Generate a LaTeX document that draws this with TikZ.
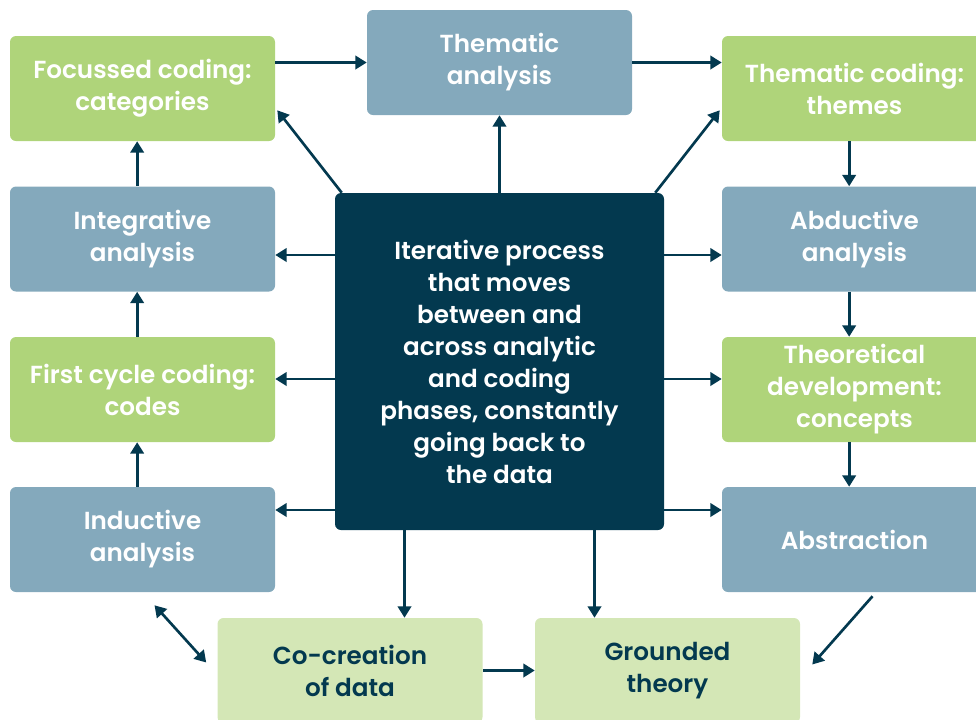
\documentclass[tikz,border=0pt]{standalone}
\usepackage{fontspec}
\setmainfont{Poppins}[BoldFont={Poppins SemiBold}]
\usetikzlibrary{arrows.meta,calc}

\definecolor{navy}{HTML}{03394F}
\definecolor{leaf}{HTML}{AFD47A}
\definecolor{steel}{HTML}{84A9BC}
\definecolor{mint}{HTML}{D4E7B6}

\begin{document}
\begin{tikzpicture}[x=0.75pt,y=-0.75pt,
  font=\fontsize{18.5}{24}\selectfont\bfseries,
  >={Triangle[length=8.5pt,width=10pt]},
  stage/.style={rounded corners=4.5pt,minimum width=198.75pt,
    minimum height=78.75pt,align=center,inner sep=0pt},
  coding/.style={stage,fill=leaf,text=white},
  analysis/.style={stage,fill=steel,text=white},
  outcome/.style={stage,fill=mint,text=navy},
  arr/.style={->,draw=navy,line width=2pt},
]

\useasboundingbox (0,0) rectangle (976,719);
\clip (0,0) rectangle (976,719);

% ------------------------------------------------------------------
% centre: the iterative process
% ------------------------------------------------------------------
\node[stage,fill=navy,text=white,minimum width=246.75pt,
  minimum height=252.75pt] (central) at (499.5,361.5)
  {Iterative process\\that moves\\between and\\across analytic\\
   and coding\\phases, constantly\\going back to\\the data};

% ------------------------------------------------------------------
% left column, bottom to top
% ------------------------------------------------------------------
\node[analysis] (induct) at (142.5,539.5) {Inductive\\analysis};
\node[coding]   (firstc) at (142.5,389.5) {First cycle coding:\\codes};
\node[analysis] (integ)  at (142.5,239)   {Integrative\\analysis};
\node[coding]   (focus)  at (142.5,88.5)  {Focussed coding:\\categories};

% top
\node[analysis] (thema) at (499.5,62.5) {Thematic\\analysis};

% right column, top to bottom
\node[coding]   (themcod) at (854.5,88.5)  {Thematic coding:\\themes};
\node[analysis] (abduct)  at (854.5,239)   {Abductive\\analysis};
\node[coding]   (theodev) at (854.5,389.5) {Theoretical\\development:\\concepts};
\node[analysis] (abstr)   at (854.5,539.5) {Abstraction};

% bottom row
\node[outcome] (cocr)     at (350,670.5)   {Co-creation\\of data};
\node[outcome] (grounded) at (667.5,670.5) {Grounded\\theory};

% ------------------------------------------------------------------
% connectors
% ------------------------------------------------------------------
\draw[arr] ([xshift=-4pt]induct.north) -- ([xshift=-4pt]firstc.south);
\draw[arr] ([xshift=-4pt]firstc.north) -- ([xshift=-4pt]integ.south);
\draw[arr] ([xshift=-4pt]integ.north) -- ([xshift=-4pt]focus.south);
\draw[arr] (focus.east |- thema.west) -- (thema.west);
\draw[arr] (thema.east) -- (themcod.west |- thema.east);
\draw[arr] ([xshift=-4pt]themcod.south) -- ([xshift=-4pt]abduct.north);
\draw[arr] ([xshift=-4pt]abduct.south) -- ([xshift=-4pt]theodev.north);
\draw[arr] ([xshift=-4pt]theodev.south) -- ([xshift=-4pt]abstr.north);

% out of the centre
\draw[arr] (central.north) -- (central.north |- thema.south);
\draw[arr] ($(central.north west)+(7,0)$) -- ($(focus.south east)+(2,-31)$);
\draw[arr] ($(central.north east)+(-9,0)$) -- ($(themcod.south west)+(-2,-31)$);
\foreach \y/\l/\r in {255/integ/abduct,379/firstc/theodev,510/induct/abstr}{
  \draw[arr] (central.west |- 0,\y) -- (\l.east |- 0,\y);
  \draw[arr] (central.east |- 0,\y) -- (\r.west |- 0,\y);
}
\draw[arr] ($(central.south)+(-95,0)$) coordinate (cl) -- (cl |- cocr.north);
\draw[arr] ($(central.south)+(95,0)$) coordinate (cr) -- (cr |- grounded.north);

% bottom row
\draw[arr] (cocr.east) -- (grounded.west);
\draw[arr] ($(abstr.south)+(18,4)$) -- ($(grounded.east)+(12,-6)$);
\draw[<->,draw=navy,line width=2pt] ($(induct.south)+(12,13)$) -- ($(cocr.west)+(-11,-8)$);

\end{tikzpicture}
\end{document}
